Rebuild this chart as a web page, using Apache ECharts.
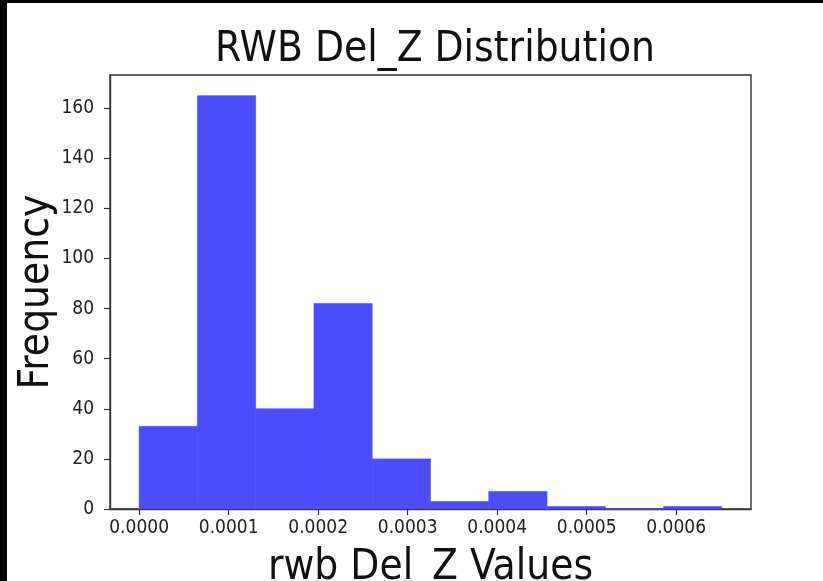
<!DOCTYPE html>
<html>
<head>
<meta charset="utf-8">
<script src="https://cdn.jsdelivr.net/npm/echarts@6/dist/echarts.min.js"></script>
<style>
html,body{margin:0;padding:0;background:#000;width:823px;height:581px;overflow:hidden;}
#chart{position:absolute;left:7px;top:3px;width:816px;height:578px;background:#fff;}
</style>
</head>
<body>
<div id="chart"></div>
<script>
const binEdges = [0, 0.0000651, 0.0001302, 0.0001953, 0.0002604, 0.0003255, 0.0003906, 0.0004557, 0.0005208, 0.0005859, 0.000651];
const counts = [33, 165, 40, 82, 20, 3, 7, 1, 0, 1];
const xTicks = [0, 0.0001, 0.0002, 0.0003, 0.0004, 0.0005, 0.0006];
const yTicks = [0, 20, 40, 60, 80, 100, 120, 140, 160];
const titleText = 'RWB Del_Z Distribution';
const xName = 'rwb Del_Z Values';
const yName = 'Frequency';

const data = counts.map((c, i) => [binEdges[i], binEdges[i + 1], c]);
const font = "'DejaVu Sans Condensed', 'Liberation Sans Narrow', 'DejaVu Sans'";
const chart = echarts.init(document.getElementById('chart'), null, {renderer: 'canvas'});
chart.setOption({
  animation: false,
  backgroundColor: '#fff',
  title: {
    text: titleText,
    left: 423, top: 21, textAlign: 'center',
    textStyle: {fontFamily: font, fontSize: 42, fontWeight: 'normal', color: '#111'}
  },
  grid: {left: 103, top: 72, right: 72, bottom: 72, containLabel: false, outerBoundsMode: 'none',
    show: true, borderColor: '#333', borderWidth: 1.4, backgroundColor: 'transparent'},
  xAxis: {
    type: 'value',
    min: -0.00003255, max: 0.00068355,
    name: xName, nameLocation: 'middle', nameGap: 38, nameMoveOverlap: false,
    nameTextStyle: {fontFamily: font, fontSize: 42, color: '#111'},
    axisLine: {show: true, onZero: false, lineStyle: {color: '#333', width: 1.4}},
    axisTick: {show: true, length: 6, customValues: xTicks, lineStyle: {color: '#333', width: 1.2}},
    axisLabel: {customValues: xTicks, fontFamily: font, fontSize: 19, color: '#222', margin: 10,
      formatter: v => v.toFixed(4)},
    splitLine: {show: false}
  },
  yAxis: {
    type: 'value',
    min: 0, max: 173.25,
    name: yName, nameLocation: 'middle', nameGap: 52, nameRotate: 90, nameMoveOverlap: false,
    nameTextStyle: {fontFamily: font, fontSize: 42, color: '#111'},
    axisLine: {show: true, onZero: false, lineStyle: {color: '#333', width: 1.4}},
    axisTick: {show: true, length: 6, customValues: yTicks, lineStyle: {color: '#333', width: 1.2}},
    axisLabel: {customValues: yTicks, fontFamily: font, fontSize: 19, color: '#222', margin: 16},
    splitLine: {show: false}
  },
  series: [{
    type: 'custom',
    data: data,
    encode: {x: [0, 1], y: 2},
    renderItem: function (params, api) {
      const p0 = api.coord([api.value(0), api.value(2)]);
      const p1 = api.coord([api.value(1), 0]);
      return {
        type: 'rect',
        shape: {x: p0[0], y: p0[1], width: p1[0] - p0[0], height: p1[1] - p0[1]},
        style: {fill: '#4c4cff', stroke: '#4c4cff', lineWidth: 0.6}
      };
    }
  }]
});
</script>
</body>
</html>
